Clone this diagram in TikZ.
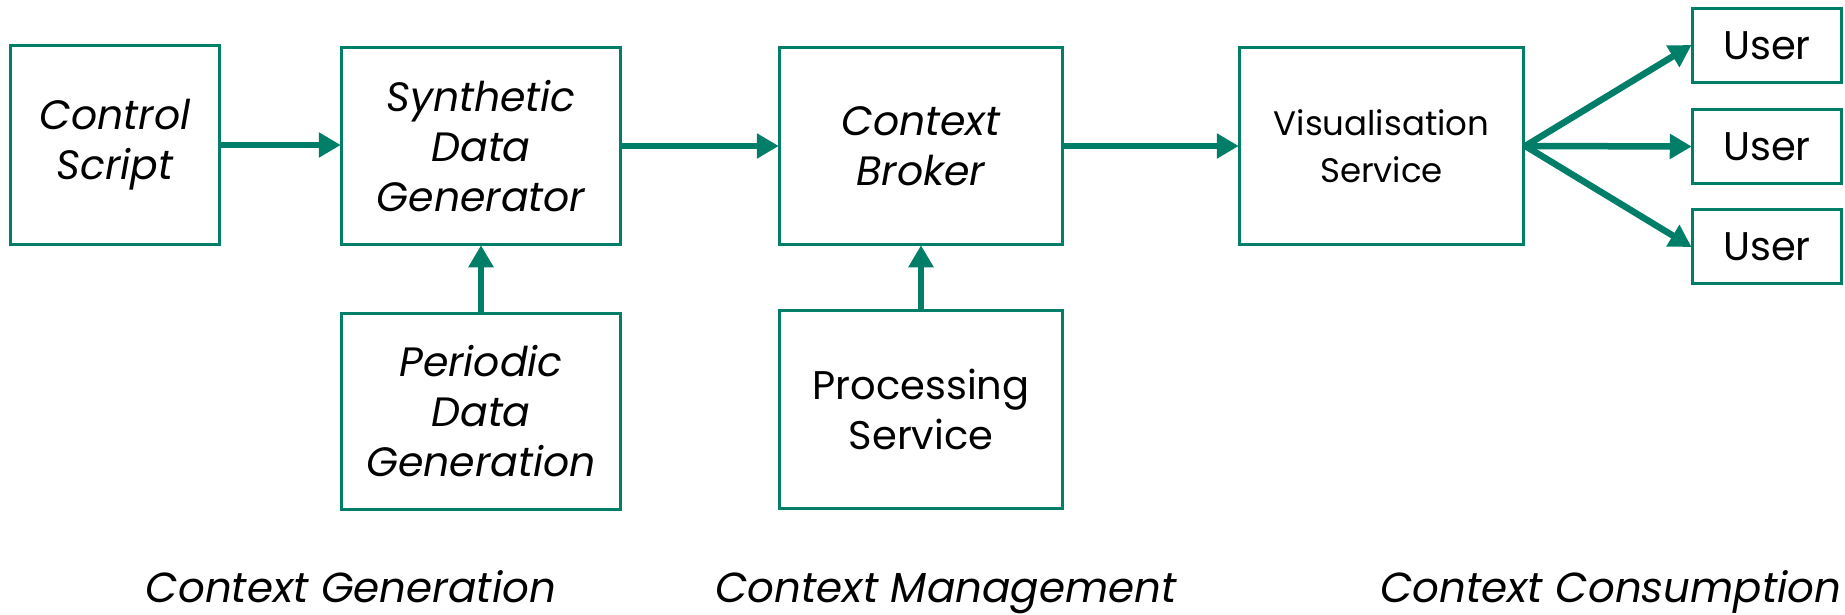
\documentclass[tikz,border=0pt]{standalone}
\usepackage{fontspec}
\setmainfont{Poppins}
\usetikzlibrary{arrows.meta}
\definecolor{teal}{RGB}{0,126,104}
\tikzset{
  box/.style={draw=teal, line width=3.5pt, rectangle, inner sep=0pt,
    align=center, font=\fontsize{40}{50}\selectfont},
  it/.style={font=\fontsize{41}{50}\selectfont\itshape},
  arr/.style={draw=teal, line width=6.5pt,
    -{Triangle[length=22pt,width=24pt]}, shorten >=-1pt},
  caption/.style={anchor=base, inner sep=0pt,
    font=\fontsize{42}{48}\selectfont\itshape}
}
\begin{document}
\begin{tikzpicture}[x=1pt,y=-1pt]
  \useasboundingbox (0,0) rectangle (1845,615);
  % context generation
  \node[box,it, minimum width=209pt, minimum height=199pt] (cs) at (115,145) {Control\\Script};
  \node[box,it, minimum width=279pt, minimum height=197pt] (sdg) at (481,146) {Synthetic\\Data\\Generator};
  \node[box,it, minimum width=279pt, minimum height=196pt] (pdg) at (481,411.5) {Periodic\\Data\\Generation};
  % context management
  \node[box,it, minimum width=283pt, minimum height=197pt] (cb) at (921,146) {Context\\Broker};
  \node[box, minimum width=283pt, minimum height=198pt] (ps) at (921,409.5) {Processing\\Service};
  % context consumption
  \node[box, minimum width=284pt, minimum height=197pt,
        font=\fontsize{34}{47}\selectfont] (vs) at (1381.5,146) {Visualisation\\Service};
  \node[box, minimum width=149pt, minimum height=74pt] (u1) at (1767,45.5) {User};
  \node[box, minimum width=149pt, minimum height=74pt] (u2) at (1767,146.5) {User};
  \node[box, minimum width=149pt, minimum height=74pt] (u3) at (1767,246.5) {User};
  % data flow
  \draw[arr] (cs.east) -- (cs.east -| sdg.west);
  \draw[arr] (sdg.east) -- (sdg.east -| cb.west);
  \draw[arr] (cb.east) -- (cb.east -| vs.west);
  \draw[arr] (pdg.north) -- (sdg.south);
  \draw[arr] (ps.north) -- (cb.south);
  \draw[arr] (vs.east) -- (u1.west);
  \draw[arr] (vs.east) -- (u2.west);
  \draw[arr] (vs.east) -- (u3.west);
  % layer captions
  \node[caption] (lg) at (351,602) {Context Generation};
  \node[caption] (lm) at (946,602) {Context Management};
  \node[caption] (lc) at (1611,602) {Context Consumption};
\end{tikzpicture}
\end{document}
